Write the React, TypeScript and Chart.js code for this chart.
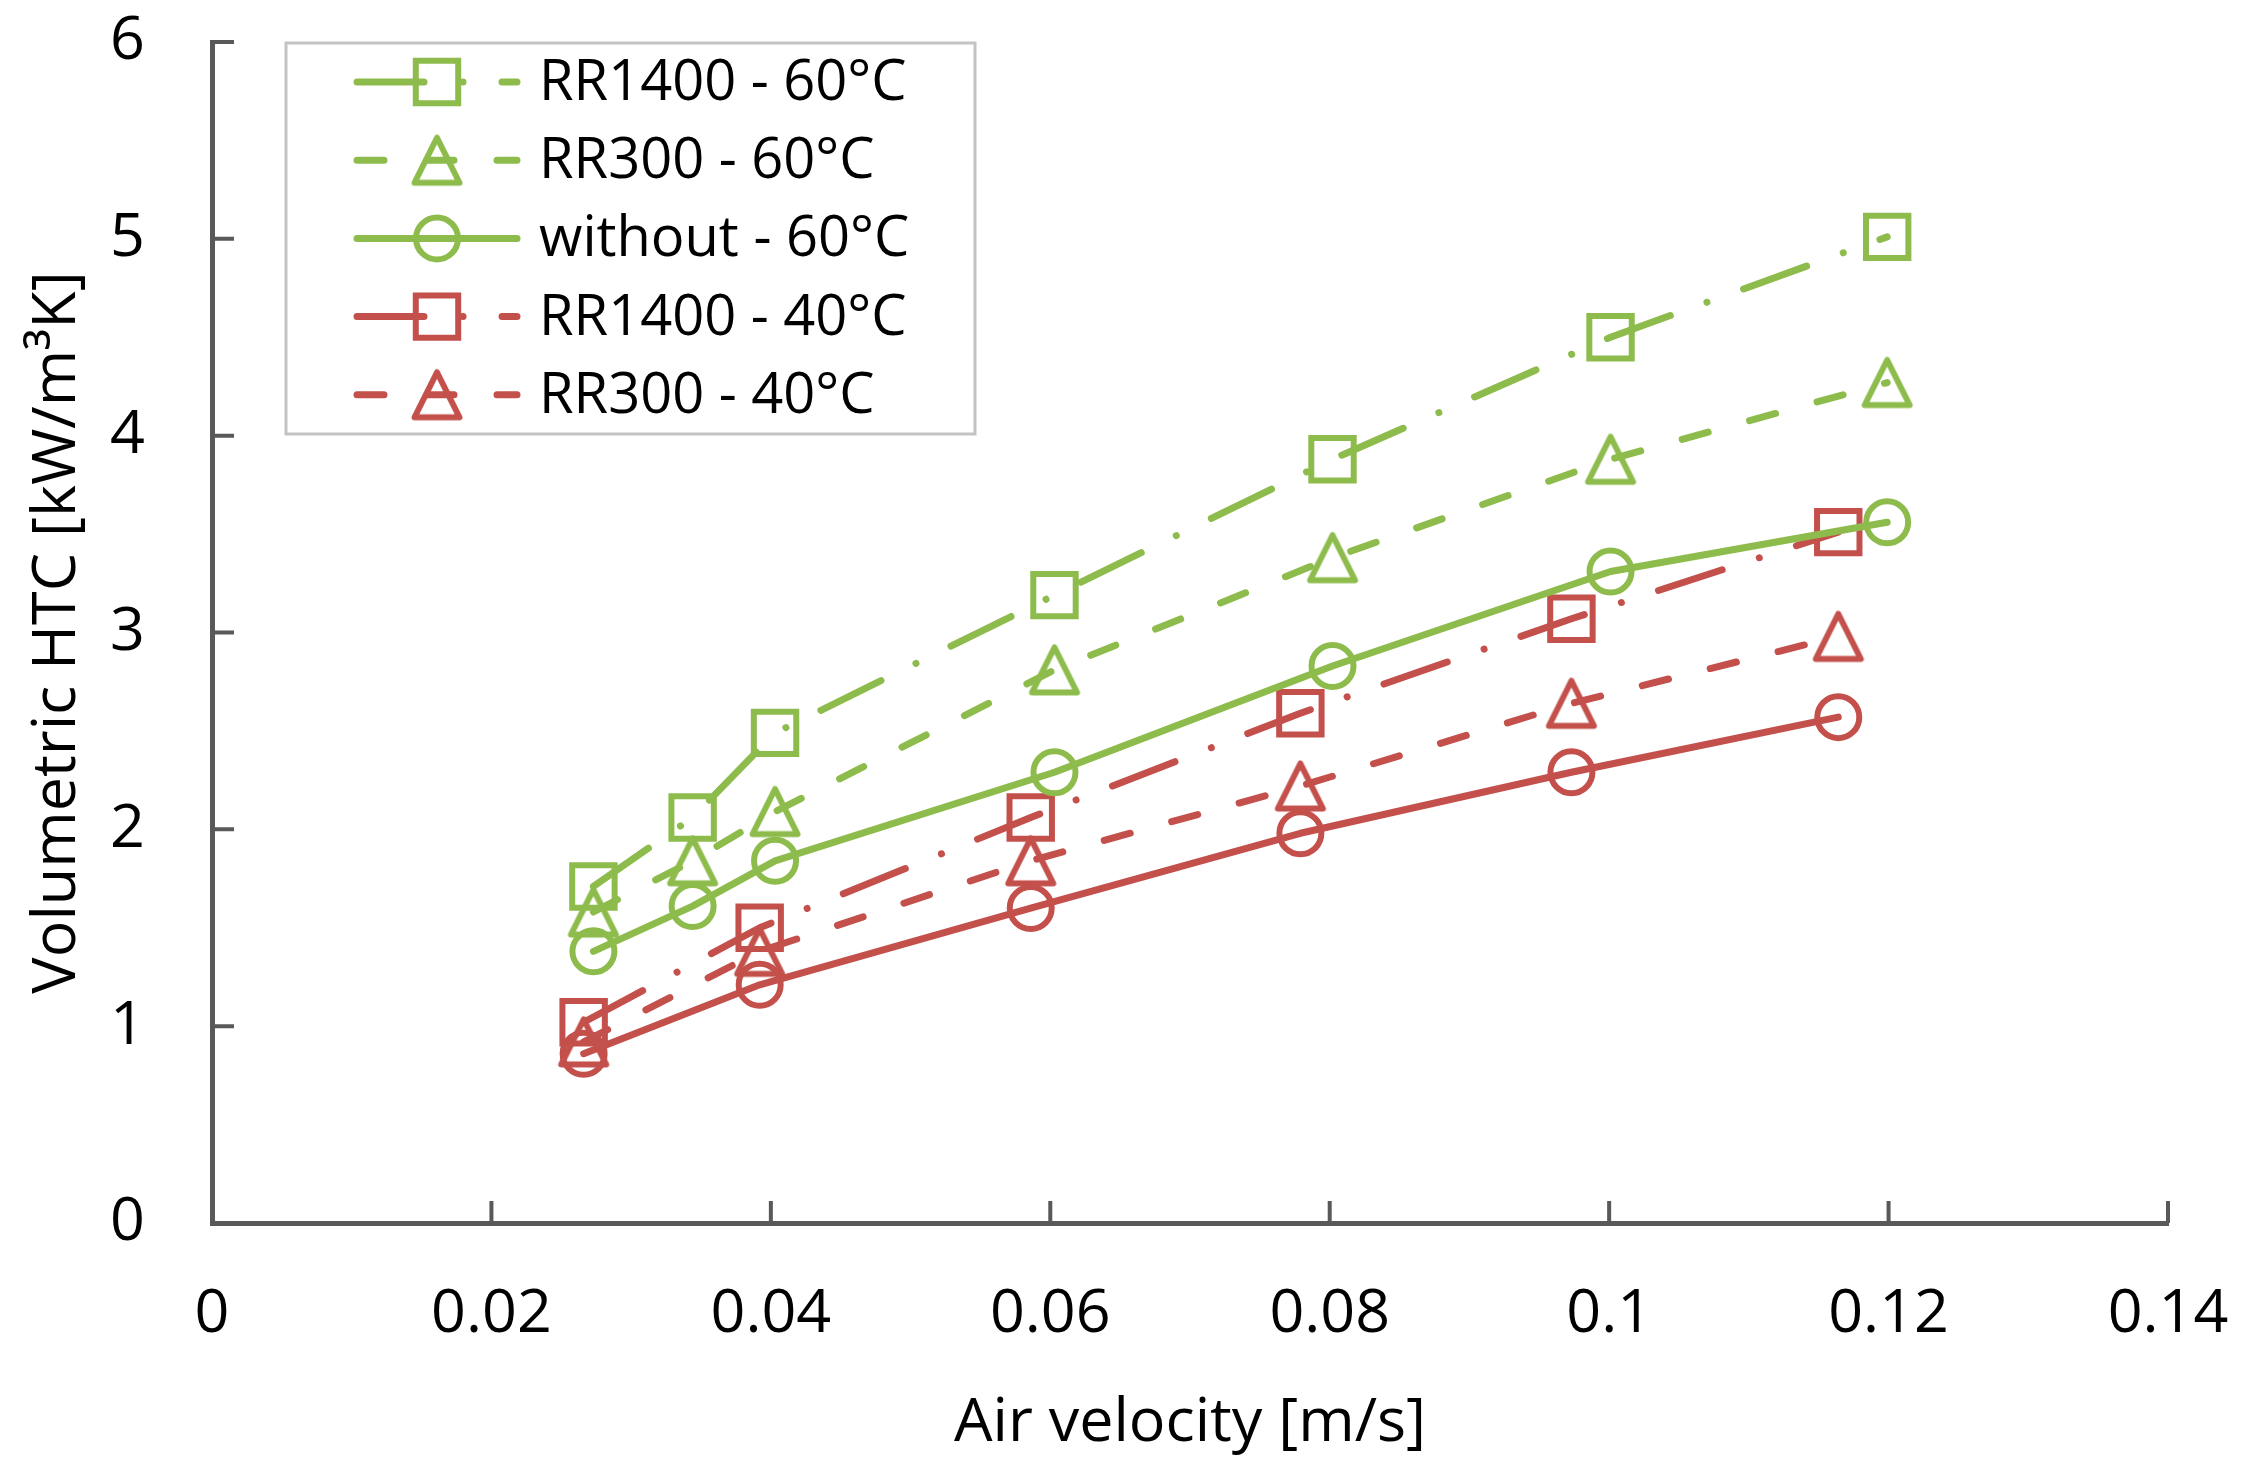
import React, { useEffect, useRef } from 'react';
import { Chart, registerables } from 'chart.js';
import { drawPoint } from 'chart.js/helpers';

Chart.register(...registerables);

// air velocity [m/s], one set of runs at 60°C and one at 40°C
const velocity60 = [0.0273, 0.0344, 0.0403, 0.0603, 0.0802, 0.1001, 0.1199];
const velocity40 = [0.0266, 0.0392, 0.0586, 0.0779, 0.0973, 0.1164];

// volumetric HTC [kW/m3K]
const rr1400_60 = [1.71, 2.06, 2.49, 3.19, 3.88, 4.5, 5.01];
const rr300_60 = [1.58, 1.84, 2.09, 2.81, 3.38, 3.88, 4.27];
const without_60 = [1.38, 1.61, 1.84, 2.29, 2.83, 3.31, 3.56];
const rr1400_40 = [1.02, 1.5, 2.06, 2.59, 3.07, 3.51];
const rr300_40 = [0.92, 1.38, 1.84, 2.22, 2.64, 2.98];
const without_40 = [0.86, 1.21, 1.6, 1.98, 2.29, 2.57];

const seriesLabels = [
  'RR1400 - 60°C',
  'RR300 - 60°C',
  'without - 60°C',
  'RR1400 - 40°C',
  'RR300 - 40°C',
  'without - 40°C',
];
// the last series is not listed in the legend
const legendLabels = seriesLabels.slice(0, 5);

const xTickLabels = ['0', '0.02', '0.04', '0.06', '0.08', '0.1', '0.12', '0.14'];
const yTickLabels = ['0', '1', '2', '3', '4', '5', '6'];

const GREEN = '#8DBC4C';
const RED = '#C4504C';
const AXIS = '#595959';
const FONT = '"Open Sans", sans-serif';

const DASH_DOT = [67, 39, 0.01, 39];
const DASHED = [27, 43];
const SOLID: number[] = [];

function makeTriangle(color: string) {
  const c = document.createElement('canvas');
  c.width = 60;
  c.height = 60;
  const g = c.getContext('2d')!;
  g.strokeStyle = color;
  g.lineWidth = 6;
  g.lineJoin = 'round';
  g.beginPath();
  g.moveTo(30, 7.5);
  g.lineTo(52.5, 52.5);
  g.lineTo(7.5, 52.5);
  g.closePath();
  g.stroke();
  return c;
}

// Excel-style tick marks pointing into the plot
const inwardTicks = {
  id: 'inwardTicks',
  beforeDatasetsDraw(chart: any) {
    const { ctx, chartArea, scales } = chart;
    ctx.save();
    ctx.strokeStyle = AXIS;
    ctx.lineWidth = 4;
    ctx.beginPath();
    scales.x.ticks.forEach((t: any) => {
      const px = scales.x.getPixelForValue(t.value);
      ctx.moveTo(px, chartArea.bottom);
      ctx.lineTo(px, chartArea.bottom - 22);
    });
    scales.y.ticks.forEach((t: any) => {
      const py = scales.y.getPixelForValue(t.value);
      ctx.moveTo(chartArea.left, py);
      ctx.lineTo(chartArea.left + 22, py);
    });
    ctx.stroke();
    ctx.restore();
  },
};

const boxLegend = {
  id: 'boxLegend',
  afterDraw(chart: any) {
    const ctx = chart.ctx;
    ctx.save();
    ctx.fillStyle = '#ffffff';
    ctx.fillRect(286, 43, 689, 391);
    ctx.strokeStyle = '#C3C3C3';
    ctx.lineWidth = 3;
    ctx.strokeRect(286, 43, 689, 391);
    chart.data.datasets.forEach((ds: any) => {
      const row = legendLabels.indexOf(ds.label);
      if (row < 0) return;
      const y = 82 + row * 78.2;
      ctx.strokeStyle = ds.borderColor;
      ctx.lineWidth = ds.borderWidth;
      ctx.lineCap = 'round';
      ctx.setLineDash(ds.borderDash);
      ctx.beginPath();
      ctx.moveTo(357, y);
      ctx.lineTo(517, y);
      ctx.stroke();
      ctx.setLineDash([]);
      ctx.fillStyle = 'rgba(0,0,0,0)';
      ctx.lineWidth = ds.pointBorderWidth;
      drawPoint(ctx, { pointStyle: ds.pointStyle, radius: ds.pointRadius, borderWidth: ds.pointBorderWidth, rotation: 0 } as any, 437, y);
      ctx.fillStyle = '#000000';
      ctx.font = `56px ${FONT}`;
      ctx.textBaseline = 'middle';
      ctx.textAlign = 'left';
      ctx.fillText(ds.label, 539, y + 2);
    });
    ctx.restore();
  },
};

export default function App() {
  const canvasRef = useRef<HTMLCanvasElement | null>(null);

  useEffect(() => {
    if (!canvasRef.current) return;
    const ctx = canvasRef.current.getContext('2d');
    if (!ctx) return;

    const triGreen = makeTriangle(GREEN);
    const triRed = makeTriangle(RED);

    const series = (label: string, xs: number[], ys: number[], color: string, dash: number[], style: any, radius: number) => ({
      label,
      data: xs.map((x, i) => ({ x, y: ys[i] })),
      borderColor: color,
      borderWidth: 7,
      borderDash: dash,
      borderCapStyle: 'round',
      borderJoinStyle: 'round',
      pointStyle: style,
      pointRadius: radius,
      pointHoverRadius: radius,
      pointBorderColor: color,
      pointBackgroundColor: 'rgba(0,0,0,0)',
      pointBorderWidth: 6,
      showLine: true,
      tension: 0,
      fill: false,
    });

    const chart = new Chart(ctx, {
      type: 'scatter',
      data: {
        datasets: [
          series(seriesLabels[0], velocity60, rr1400_60, GREEN, DASH_DOT, 'rect', 30),
          series(seriesLabels[1], velocity60, rr300_60, GREEN, DASHED, triGreen, 25),
          series(seriesLabels[2], velocity60, without_60, GREEN, SOLID, 'circle', 21),
          series(seriesLabels[3], velocity40, rr1400_40, RED, DASH_DOT, 'rect', 30),
          series(seriesLabels[4], velocity40, rr300_40, RED, DASHED, triRed, 25),
          series(seriesLabels[5], velocity40, without_40, RED, SOLID, 'circle', 21),
        ] as any,
      },
      options: {
        animation: false,
        responsive: true,
        maintainAspectRatio: false,
        layout: { padding: { top: 42, right: 84, left: 0, bottom: 0 } },
        plugins: {
          legend: { display: false },
          tooltip: { enabled: false },
        },
        scales: {
          x: {
            type: 'linear',
            min: 0,
            max: 0.14,
            afterFit: (s: any) => { s.height = 255; },
            ticks: {
              stepSize: 0.02,
              padding: 0,
              color: '#000000',
              font: { family: FONT, size: 61 },
              callback: (_v: any, i: number) => xTickLabels[i],
            },
            // invisible tick marks only used to push the labels away from the axis
            grid: { display: true, drawOnChartArea: false, drawTicks: true, tickLength: 55, tickColor: 'rgba(0,0,0,0)' },
            border: { display: true, color: AXIS, width: 5 },
            title: {
              display: true,
              text: 'Air velocity [m/s]',
              color: '#000000',
              font: { family: FONT, size: 61 },
              padding: { top: 0, bottom: 18 },
            },
          },
          y: {
            type: 'linear',
            min: 0,
            max: 6,
            afterFit: (s: any) => { s.width = 212; },
            ticks: {
              stepSize: 1,
              padding: 0,
              color: '#000000',
              font: { family: FONT, size: 61 },
              callback: (_v: any, i: number) => yTickLabels[i],
            },
            grid: { display: true, drawOnChartArea: false, drawTicks: true, tickLength: 67, tickColor: 'rgba(0,0,0,0)' },
            border: { display: true, color: AXIS, width: 5 },
            title: {
              display: true,
              text: 'Volumetric HTC [kW/m³K]',
              color: '#000000',
              font: { family: FONT, size: 61 },
              padding: { top: 21, bottom: 0 },
            },
          },
        },
      } as any,
      plugins: [inwardTicks, boxLegend],
    });

    return () => {
      chart.destroy();
    };
  }, []);

  return (
    <div style={{ position: 'absolute', left: 0, top: 0, width: 2252, height: 1478, background: '#ffffff' }}>
      <canvas ref={canvasRef}></canvas>
    </div>
  );
}
